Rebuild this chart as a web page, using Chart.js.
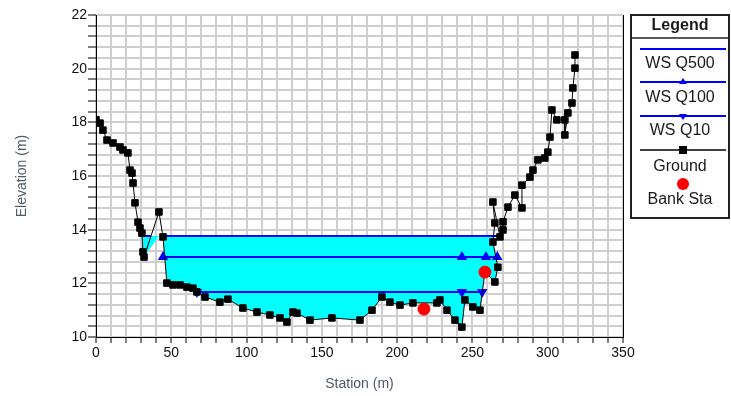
<!DOCTYPE html>
<html>
<head>
<meta charset="utf-8">
<script src="https://cdn.jsdelivr.net/npm/chart.js@4.4.1/dist/chart.umd.min.js"></script>
<style>
    body { margin: 0; background: #fff; }
    #wrap { position: relative; width: 731px; height: 396px; overflow: hidden; }
    #chart, #legendSvg { position: absolute; left: 0; top: 0; }
    .lg {
        position: absolute; left: 631px; width: 98px; text-align: center;
        font: 16px "Liberation Sans", Arial, sans-serif; color: #1a1a1a; line-height: 18px;
    }
</style>
</head>
<body>
<div id="wrap">
    <canvas id="chart" width="731" height="396"></canvas>
    <svg id="legendSvg" width="731" height="396">
        <rect x="631" y="15" width="98" height="203" fill="none" stroke="#222" stroke-width="2"/>
        <line x1="631" y1="38" x2="729" y2="38" stroke="#222" stroke-width="1.5"/>
        <line x1="640" y1="49" x2="726" y2="49" stroke="#0000ff" stroke-width="2"/>
        <line x1="640" y1="82" x2="726" y2="82" stroke="#0000ff" stroke-width="2"/>
        <polygon points="683,78 687,84 679,84" fill="#0000ff"/>
        <line x1="640" y1="116" x2="726" y2="116" stroke="#0000ff" stroke-width="2"/>
        <polygon points="683,120 687,114 679,114" fill="#0000ff"/>
        <line x1="640" y1="150" x2="726" y2="150" stroke="#000" stroke-width="1.5"/>
        <rect x="679" y="146" width="8" height="8" fill="#000"/>
        <circle cx="683" cy="184" r="6" fill="#ff0000"/>
    </svg>
    <div class="lg" style="top:16px;font-weight:bold">Legend</div>
    <div class="lg" style="top:54px">WS Q500</div>
    <div class="lg" style="top:88px">WS Q100</div>
    <div class="lg" style="top:121px">WS Q10</div>
    <div class="lg" style="top:157px">Ground</div>
    <div class="lg" style="top:190px">Bank Sta</div>
</div>
<script>
// Ground profile (station m, elevation m)
const groundStation = [0, 2.7, 4.6, 7.3, 11.3, 15.9, 17.9, 21.2, 22.6, 23.9, 24.6, 25.9, 27.9, 29.2, 30.5, 31.2, 31.9,
    41.8, 44.5, 47.1, 51.1, 55.8, 60.4, 64.4, 67, 72.4, 82.3, 87.6, 97.6, 106.9, 115.5, 122.2, 126.8, 130.8, 133.5,
    142.1, 156.7, 175.3, 183.3, 189.9, 195.2, 201.9, 210.5, 226.4, 228.4, 233.1, 238.4, 243.0, 245.0, 250.3, 255.0,
    258.3, 264.9, 266.9, 263.6, 264.9, 263.6, 268.3, 270.3, 270.3, 273.6, 278.2, 282.9, 282.9, 288.2, 290.2, 293.5,
    298.1, 300.1, 301.5, 302.8, 306.1, 311.4, 311.4, 313.4, 316.1, 316.7, 318.1, 318.1];
const groundElevation = [18.1, 17.97, 17.71, 17.34, 17.23, 17.08, 16.97, 16.86, 16.22, 16.11, 15.74, 15.0, 14.28, 14.06, 13.87, 13.17, 12.98,
    14.66, 13.73, 12.01, 11.94, 11.94, 11.86, 11.82, 11.68, 11.49, 11.3, 11.41, 11.08, 10.93, 10.82, 10.71, 10.56, 10.93, 10.89,
    10.63, 10.71, 10.63, 11.0, 11.49, 11.3, 11.19, 11.27, 11.27, 11.38, 11.0, 10.63, 10.37, 11.38, 11.12, 11.0,
    12.42, 12.05, 12.6, 13.54, 14.25, 15.03, 13.73, 13.99, 14.29, 14.84, 15.29, 14.81, 15.66, 15.96, 16.22, 16.6,
    16.67, 16.89, 17.45, 18.46, 18.09, 18.09, 17.53, 18.35, 18.72, 19.28, 20.02, 20.51];

const bankStation = [217.8, 258.3];
const bankElevation = [11.04, 12.42];

// Water surfaces
const wsLabels = ['WS Q500', 'WS Q100', 'WS Q10'];
const wsElevation = [13.76, 12.98, 11.68];
const q500Station = [30.5, 36.5, null, 44.4, 268];
const q100Station = [44.5, 243, 259, 266.5];
const q10Station = [67, 243, 256.5];

const xLabels = [0, 50, 100, 150, 200, 250, 300, 350];
const yLabels = [10, 12, 14, 16, 18, 20, 22];

const FONT = '"Liberation Sans", Arial, sans-serif';

const ground = groundStation.map((s, i) => ({ x: s, y: groundElevation[i] }));
const bank = bankStation.map((s, i) => ({ x: s, y: bankElevation[i] }));
const wsLine = (stations, elev) => stations.map(s => ({ x: s, y: s === null ? null : elev }));

// wetted area under WS Q500, bounded by the ground
const wsTop = wsElevation[0];
const waterLeft = q500Station[0];
const waterRight = q500Station[q500Station.length - 1];
const waterBed = [{ x: waterLeft, y: wsTop }];
groundStation.forEach((s, i) => {
    if (s > waterLeft && s < waterRight) waterBed.push({ x: s, y: Math.min(groundElevation[i], wsTop) });
});
waterBed.push({ x: waterRight, y: wsTop });

const frame = {
    id: 'frame',
    afterDraw(chart) {
        const { ctx, chartArea: a } = chart;
        ctx.save();
        ctx.strokeStyle = '#000';
        ctx.lineWidth = 1;
        ctx.beginPath();
        ctx.moveTo(a.right + 0.5, a.top);
        ctx.lineTo(a.right + 0.5, a.bottom);
        ctx.stroke();
        ctx.restore();
    }
};

new Chart(document.getElementById('chart'), {
    type: 'scatter',
    data: {
        datasets: [
            {
                label: 'Bank Sta', data: bank, showLine: false, order: 1,
                pointStyle: 'circle', pointRadius: 6, backgroundColor: '#ff0000', borderColor: '#ff0000'
            },
            {
                label: 'Ground', data: ground, showLine: true, order: 2,
                borderColor: '#000', borderWidth: 1,
                pointStyle: 'rect', pointRadius: 4.6, pointBackgroundColor: '#000', pointBorderColor: '#000', pointBorderWidth: 1
            },
            {
                label: wsLabels[2], data: wsLine(q10Station, wsElevation[2]), showLine: true, order: 3,
                borderColor: '#0000ff', borderWidth: 2,
                pointStyle: 'triangle', pointRotation: 180, pointRadius: 4, pointBackgroundColor: '#0000ff', pointBorderColor: '#0000ff'
            },
            {
                label: wsLabels[1], data: wsLine(q100Station, wsElevation[1]), showLine: true, order: 4,
                borderColor: '#0000ff', borderWidth: 2,
                pointStyle: 'triangle', pointRadius: 4, pointBackgroundColor: '#0000ff', pointBorderColor: '#0000ff'
            },
            {
                label: wsLabels[0], data: wsLine(q500Station, wsElevation[0]), showLine: true, order: 5,
                borderColor: '#0000ff', borderWidth: 2, pointRadius: 0
            },
            {
                label: 'water', data: waterBed, showLine: true, order: 6,
                borderColor: 'rgba(0,0,0,0)', borderWidth: 0, pointRadius: 0,
                backgroundColor: '#00ffff', fill: { value: wsTop }
            }
        ]
    },
    options: {
        responsive: false,
        animation: false,
        layout: { padding: { top: 15, right: 108, left: 0, bottom: 0 } },
        plugins: { legend: { display: false }, tooltip: { enabled: false } },
        scales: {
            x: {
                type: 'linear', min: 0, max: 350,
                afterFit: s => { s.height = 59; s.paddingLeft = 0; s.paddingRight = 0; },
                border: { display: true, color: '#000', width: 1 },
                grid: { color: '#cfcfcf', lineWidth: 2, tickColor: '#000', tickWidth: 1, tickLength: 6 },
                ticks: {
                    stepSize: 10, autoSkip: false, maxRotation: 0, maxTicksLimit: 100, padding: 2,
                    color: '#111', font: { family: FONT, size: 14 },
                    callback: v => xLabels.includes(v) ? String(v) : ''
                },
                title: {
                    display: true, text: 'Station (m)', color: '#4f5965',
                    font: { family: FONT, size: 14 }, padding: { top: 0, bottom: 3 }
                }
            },
            y: {
                type: 'linear', min: 10, max: 22,
                afterFit: s => { s.width = 96; s.paddingTop = 0; s.paddingBottom = 0; },
                border: { display: true, color: '#000', width: 1 },
                grid: { color: '#cfcfcf', lineWidth: 2, tickColor: '#000', tickWidth: 1, tickLength: 8 },
                ticks: {
                    stepSize: 0.4, autoSkip: false, maxTicksLimit: 100, padding: 1,
                    color: '#111', font: { family: FONT, size: 14 },
                    callback: v => {
                        const t = yLabels.find(l => Math.abs(l - v) < 1e-6);
                        return t === undefined ? '' : String(t);
                    }
                },
                title: {
                    display: true, text: 'Elevation (m)', color: '#4f5965',
                    font: { family: FONT, size: 14 }, padding: { top: 14, bottom: 0 }
                }
            }
        }
    },
    plugins: [frame]
});
</script>
</body>
</html>
